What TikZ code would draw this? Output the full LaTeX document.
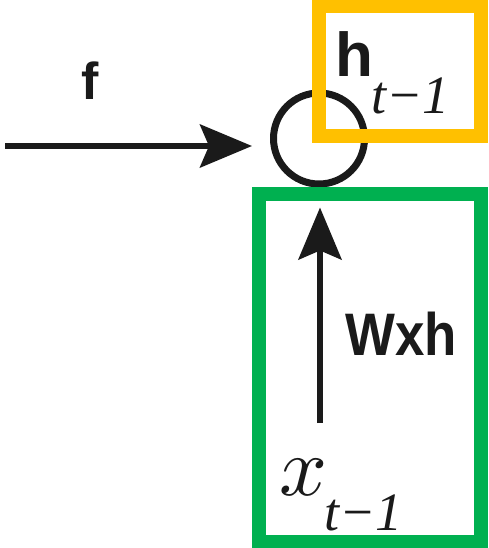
\documentclass[tikz,border=0pt]{standalone}
\usepackage{fontspec}
\setmainfont{Liberation Serif}
\newfontfamily\lblsans{Liberation Sans}
\usetikzlibrary{arrows.meta}
\definecolor{boxorange}{HTML}{FFC000}
\definecolor{boxgreen}{HTML}{00B050}
\definecolor{ink}{HTML}{1A1A1A}
\tikzset{
  arr/.style={ink, line width=6pt, -{Stealth[length=52pt,width=43pt,inset=9pt]}},
  sumnode/.style={circle, draw=ink, line width=7pt, minimum size=91pt, inner sep=0pt},
  boldlbl/.style={font=\lblsans\bfseries, inner sep=0pt, text=ink},
  itlbl/.style={font=\itshape, inner sep=0pt, text=ink},
  hlbox/.style={line width=13.5pt}
}
\begin{document}
\begin{tikzpicture}[x=1pt,y=-1pt]
\useasboundingbox (0,0) rectangle (489,548);
\fill[white] (0,0) rectangle (489,548);
% summation node
\node[sumnode] (c) at (319,138.5) {};
% horizontal input
\coordinate (fin) at (5,146);
\draw[arr, shorten >=18pt] (fin) -- (c.west |- fin);
\node[boldlbl, anchor=base] (f) at (90,100) {\fontsize{52}{52}\selectfont f};
% vertical input
\coordinate (xin) at (320,423);
\draw[arr, shorten >=20pt] (xin) -- (c.south -| xin);
\node[boldlbl, anchor=base west] (w) at (345,355) {\scalebox{0.88}[1]{\fontsize{60}{60}\selectfont Wxh}};
% x_{t-1}
\node[itlbl, anchor=base west] (x) at (279,495) {\fontsize{10}{10}\selectfont\scalebox{8.4}{$x$}};
\node[itlbl, anchor=base west] (xs) at (324,530) {\fontsize{54}{54}\selectfont t\char"2212 1};
% h_{t-1}
\node[boldlbl, anchor=base west] (h) at (335,77) {\fontsize{62}{62}\selectfont h};
\node[itlbl, anchor=base west] (hs) at (371,114) {\fontsize{54}{54}\selectfont t\char"2212 1};
% highlight boxes
\draw[hlbox, boxorange] (319,6.5) rectangle (481,136);
\draw[hlbox, boxgreen] (259,194) rectangle (481,541.5);
\end{tikzpicture}
\end{document}
